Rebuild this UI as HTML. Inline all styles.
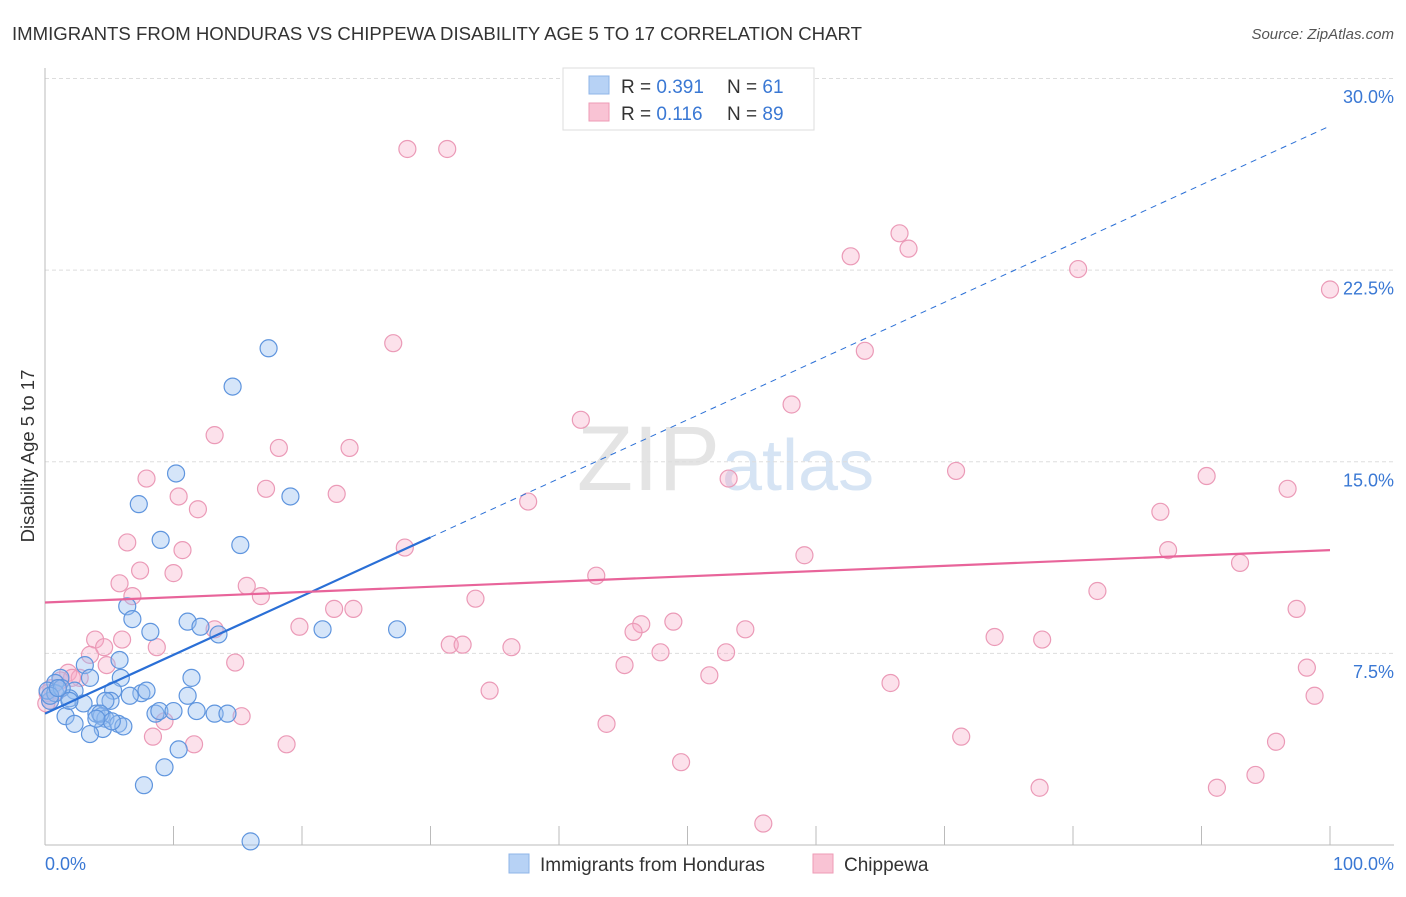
<!DOCTYPE html>
<html><head><meta charset="utf-8"><style>
body{margin:0;background:#fff;font-family:"Liberation Sans",sans-serif}
svg text{font-family:"Liberation Sans",sans-serif}
</style></head><body>
<svg id="chart" width="1406" height="892">
<text x="12" y="40" font-size="18.6" fill="#333">IMMIGRANTS FROM HONDURAS VS CHIPPEWA DISABILITY AGE 5 TO 17 CORRELATION CHART</text>
<text x="1394" y="39" font-size="15" fill="#555" font-style="italic" text-anchor="end">Source: ZipAtlas.com</text>
<text x="720" y="490" font-size="92" fill="#e4e4e4" text-anchor="end" font-family="Liberation Serif">ZIP</text>
<text x="722" y="490" font-size="72" fill="#d6e4f4">atlas</text>
<text transform="translate(34,456) rotate(-90)" font-size="18.5" fill="#333" text-anchor="middle">Disability Age 5 to 17</text>
<g id="grid"></g><g id="pts"></g><g id="lines"></g>
<g>
<rect x="563" y="68" width="251" height="62" fill="#fff" stroke="#ddd"/>
<rect x="589" y="76" width="20" height="18" fill="#b7d2f5" stroke="#8fb5e8"/>
<rect x="589" y="103" width="20" height="18" fill="#f9c3d4" stroke="#ee9bb6"/>
<text x="621" y="93" font-size="19" fill="#333">R = <tspan fill="#3a78d4">0.391</tspan></text>
<text x="727" y="93" font-size="19" fill="#333">N = <tspan fill="#3a78d4"> 61</tspan></text>
<text x="621" y="120" font-size="19" fill="#333">R = <tspan fill="#3a78d4"> 0.116</tspan></text>
<text x="727" y="120" font-size="19" fill="#333">N = <tspan fill="#3a78d4">89</tspan></text>
</g>
<g>
<rect x="509" y="854" width="20" height="19" fill="#b7d2f5" stroke="#8fb5e8"/>
<text x="540" y="871" font-size="19" fill="#333">Immigrants from Honduras</text>
<rect x="813" y="854" width="20" height="19" fill="#f9c3d4" stroke="#ee9bb6"/>
<text x="844" y="871" font-size="19" fill="#333">Chippewa</text>
</g>
<text x="45" y="870" font-size="18" fill="#3a78d4">0.0%</text>
<text x="1394" y="870" font-size="18" fill="#3a78d4" text-anchor="end">100.0%</text>
</svg>
<script>
const yTicks=[7.5,15,22.5,30];
const yTickLabels=["7.5%","15.0%","22.5%","30.0%"];
const xTicks=[0,10,20,30,40,50,60,70,80,90,100];
const blueX=[17.4,14.6,10.2,19.1,7.3,9.0,15.2,6.4,6.8,11.1,12.1,8.2,13.5,21.6,27.4,5.8,3.1,11.4,5.9,3.5,1.2,0.8,2.3,5.3,7.5,7.9,11.1,6.6,5.1,1.9,3.0,4.7,8.6,8.9,10.0,11.8,13.2,14.2,4.0,4.4,1.6,4.7,5.7,6.1,2.3,4.5,3.5,10.4,9.3,7.7,16.0,0.4,0.2,0.8,1.3,0.4,1.0,1.9,4.3,5.2,4.0];
const blueY=[19.5,18.0,14.6,13.7,13.4,12.0,11.8,9.4,8.9,8.8,8.6,8.4,8.3,8.5,8.5,7.3,7.1,6.6,6.6,6.6,6.6,6.4,6.1,6.1,6.0,6.1,5.9,5.9,5.7,5.8,5.6,5.7,5.2,5.3,5.3,5.3,5.2,5.2,5.2,5.1,5.1,5.0,4.8,4.7,4.8,4.6,4.4,3.8,3.1,2.4,0.2,5.7,6.1,6.0,6.2,5.9,6.2,5.7,5.2,4.9,5.0];
const pinkX=[28.2,31.3,66.5,67.2,62.7,80.4,100,27.1,63.8,58.1,41.7,13.2,18.2,23.7,70.9,90.4,7.9,17.2,10.4,22.7,53.2,96.7,37.6,11.9,86.8,28.0,6.4,10.7,59.1,87.4,7.4,10.0,42.9,93.0,5.8,15.7,16.8,6.8,33.5,81.9,22.5,24.0,97.4,19.8,13.2,48.9,46.4,45.8,54.5,73.9,77.6,6.0,3.9,31.5,32.5,36.3,4.6,8.7,47.9,53.0,3.5,14.8,45.1,98.2,4.8,1.8,2.7,2.1,51.7,65.8,34.6,98.8,0.5,0.2,1.0,15.3,9.3,43.7,8.4,71.3,11.6,18.8,95.8,49.5,94.2,77.4,91.2,55.9,0.4,1.2,0.1];
const pinkY=[27.3,27.3,24.0,23.4,23.1,22.6,21.8,19.7,19.4,17.3,16.7,16.1,15.6,15.6,14.7,14.5,14.4,14.0,13.7,13.8,14.4,14.0,13.5,13.2,13.1,11.7,11.9,11.6,11.4,11.6,10.8,10.7,10.6,11.1,10.3,10.2,9.8,9.8,9.7,10.0,9.3,9.3,9.3,8.6,8.5,8.8,8.7,8.4,8.5,8.2,8.1,8.1,8.1,7.9,7.9,7.8,7.8,7.8,7.6,7.6,7.5,7.2,7.1,7.0,7.1,6.8,6.6,6.6,6.7,6.4,6.1,5.9,6.2,6.0,6.1,5.1,4.9,4.8,4.3,4.3,4.0,4.0,4.1,3.3,2.8,2.3,2.3,0.9,5.7,6.5,5.6];
const blueTrend=[5.2,28.2];
const pinkTrend=[9.55,11.6];
const sx=v=>45+v*12.85, sy=v=>846.5-v*25.55;
const NS="http://www.w3.org/2000/svg";
function mk(t,a,p){const e=document.createElementNS(NS,t);for(const k in a)e.setAttribute(k,a[k]);p.appendChild(e);return e;}
const grid=document.getElementById('grid');
yTicks.forEach((v,i)=>{
 const l=mk('line',{x1:45,x2:1394,y1:sy(v)-1.5,y2:sy(v)-1.5,stroke:'#ddd','stroke-dasharray':'4,3'},grid);
 
 
 const t=mk('text',{x:1394,y:sy(v)+23,'font-size':18,fill:'#3a78d4','text-anchor':'end'},grid);
 t.textContent=yTickLabels[i];
 
 
});
const ax=mk('line',{x1:45,x2:1394,y1:845,y2:845,stroke:'#bbb'},grid);


const ay=mk('line',{x1:45,x2:45,y1:68,y2:845,stroke:'#bbb'},grid);


xTicks.forEach(v=>{if(v===0)return;
 const t=mk('line',{x1:sx(v),x2:sx(v),y1:826,y2:845,stroke:'#bbb'},grid);
 
 
});
const pts=document.getElementById('pts');
pinkX.forEach((x,i)=>{
 const c=mk('circle',{cx:sx(x),cy:sy(pinkY[i]),r:8.5,fill:'rgba(246,170,198,0.35)',stroke:'#eb9ab7','stroke-width':1.2},pts);
 
 
});
blueX.forEach((x,i)=>{
 const c=mk('circle',{cx:sx(x),cy:sy(blueY[i]),r:8.5,fill:'rgba(150,190,240,0.4)',stroke:'#5f95de','stroke-width':1.2},pts);
 
 
});
const lines=document.getElementById('lines');
const bAt=x=>blueTrend[0]+(blueTrend[1]-blueTrend[0])*x/100;
const b1=mk('line',{x1:sx(0),y1:sy(bAt(0)),x2:sx(30),y2:sy(bAt(30)),stroke:'#2a6fd6','stroke-width':2.2},lines);


const b2=mk('line',{x1:sx(30),y1:sy(bAt(30)),x2:sx(100),y2:sy(bAt(100)),stroke:'#2a6fd6','stroke-width':1,'stroke-dasharray':'6,5'},lines);


const p1=mk('line',{x1:sx(0),y1:sy(pinkTrend[0]),x2:sx(100),y2:sy(pinkTrend[1]),stroke:'#e8649a','stroke-width':2.2},lines);


</script>
</body></html>
